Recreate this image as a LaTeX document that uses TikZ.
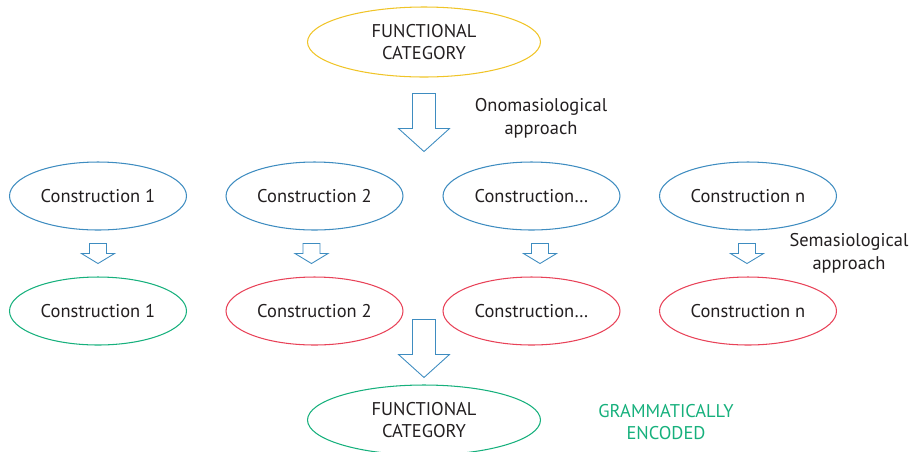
\documentclass[tikz,border=0pt]{standalone}
\usepackage{fontspec}
\setmainfont{PT Sans}
\usepackage{tikz}
\usetikzlibrary{shapes.geometric, positioning, calc}
\definecolor{myyellow}{RGB}{240,196,40}
\definecolor{myblue}{RGB}{62,140,192}
\definecolor{mygreen}{RGB}{22,176,124}
\definecolor{myred}{RGB}{232,66,88}
\definecolor{mydark}{RGB}{35,31,32}
\tikzset{
  catnode/.style={ellipse, draw=#1, text=mydark, align=center,
    minimum width=4.66cm, minimum height=1.4cm, inner sep=0pt,
    font=\fontsize{10.5}{13}\selectfont, line width=0.6pt},
  consnode/.style={ellipse, draw=#1, text=mydark,
    minimum width=3.54cm, minimum height=1.36cm, inner sep=0pt,
    font=\fontsize{10.5}{13}\selectfont, line width=0.6pt},
  note/.style={align=center, text=mydark, font=\fontsize{10.5}{13}\selectfont},
  pics/bigarrow/.style={code={
    \draw[myblue, line width=0.5pt] (-11.5,0) -- (11.5,0) -- (11.5,35) -- (25.5,35)
      -- (0,58) -- (-25.5,35) -- (-11.5,35) -- cycle;}},
  pics/smallarrow/.style={code={
    \draw[myblue, line width=0.5pt] (-8.5,0) -- (8.5,0) -- (8.5,10) -- (16.5,10)
      -- (0,20) -- (-16.5,10) -- (-8.5,10) -- cycle;}}
}
\begin{document}
\begin{tikzpicture}[x=0.02cm, y=-0.02cm]
  \useasboundingbox (0,0) rectangle (909,451);

  % Functional category at the top
  \node[catnode=myyellow] (cattop) at (424,42) {FUNCTIONAL\\CATEGORY};

  % Constructions (first row)
  \node[consnode=myblue] (ca1) at (98,196) {Construction 1};
  \node[consnode=myblue] (ca2) at (314.5,196) {Construction 2};
  \node[consnode=myblue] (ca3) at (531.5,196) {Construction…};
  \node[consnode=myblue] (ca4) at (748,196) {Construction n};

  % Constructions (second row)
  \node[consnode=mygreen] (cb1) at (98,311) {Construction 1};
  \node[consnode=myred] (cb2) at (314.5,311) {Construction 2};
  \node[consnode=myred] (cb3) at (531.5,311) {Construction…};
  \node[consnode=myred] (cb4) at (748,311) {Construction n};

  % Functional category at the bottom
  \node[catnode=mygreen] (catbot) at (424,420) {FUNCTIONAL\\CATEGORY};

  % Onomasiological arrow
  \pic at ($(cattop.south)+(0,16)$) {bigarrow};
  \node[note] (onom) at (541,118) {Onomasiological\\approach};

  % Semasiological arrows
  \foreach \i/\dx in {1/0, 2/-3, 3/8.5, 4/-1}
    \pic at ($(ca\i.south)+(\dx,13)$) {smallarrow};
  \node[note] (sema) at (849,253) {Semasiological\\approach};

  % Arrow down to the encoded category
  \pic at ($(catbot.north)+(0,-65)$) {bigarrow};
  \node[note, text=mygreen] (gram) at (666,422) {GRAMMATICALLY\\ENCODED};
\end{tikzpicture}
\end{document}
